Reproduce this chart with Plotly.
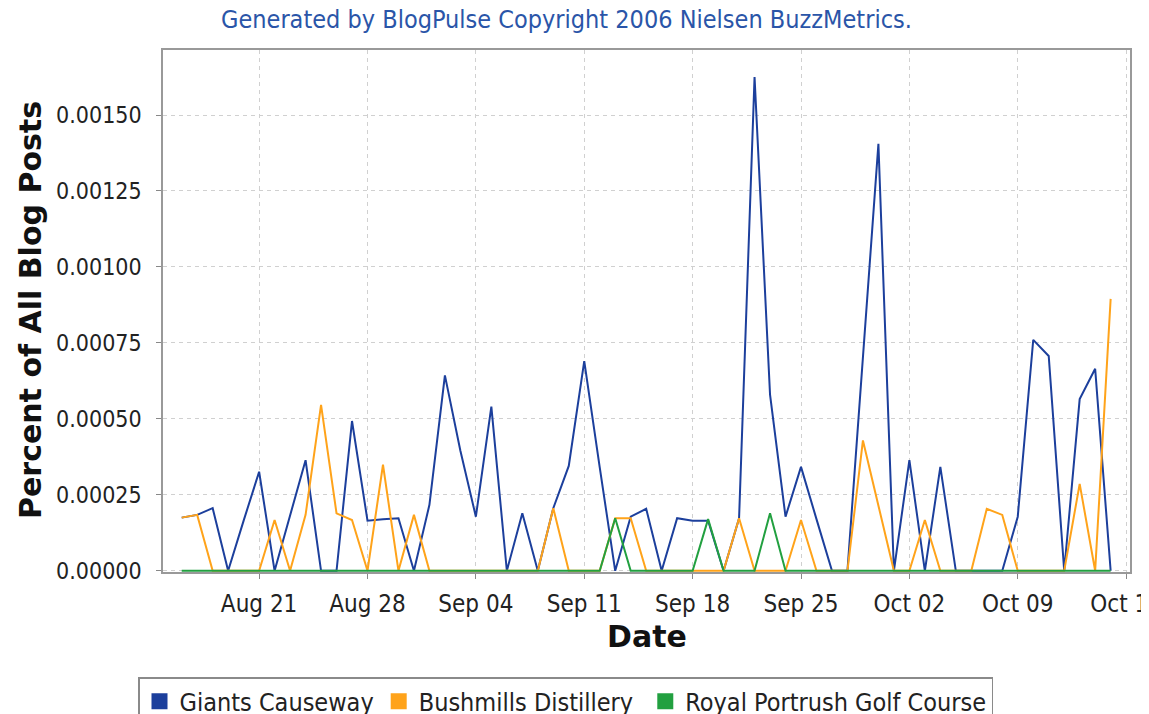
import plotly.graph_objects as go
import pandas as pd

dates = pd.date_range("2006-08-16", "2006-10-15", freq="D")

giants_causeway = [
    0.000175, 0.000184, 0.000206, 0.0, 0.000165, 0.000326, 0.0, 0.000182, 0.000364, 0.0,
    0.0, 0.000493, 0.000165, 0.000170, 0.000173, 0.0, 0.000217, 0.000643, 0.000395, 0.000178,
    0.000540, 0.0, 0.000189, 0.0, 0.000206, 0.000345, 0.000690, 0.000340, 0.0, 0.000178,
    0.000204, 0.0, 0.000173, 0.000165, 0.000165, 0.0, 0.000173, 0.001625, 0.000580, 0.000178,
    0.000342, 0.000170, 0.0, 0.0, 0.000700, 0.001405, 0.0, 0.000364, 0.0, 0.000342,
    0.0, 0.0, 0.0, 0.0, 0.000178, 0.000760, 0.000707, 0.0, 0.000565, 0.000665,
    0.0,
]

bushmills = [
    0.000175, 0.000184, 0.0, 0.0, 0.0, 0.0, 0.000167, 0.0, 0.000184, 0.000546,
    0.000189, 0.000167, 0.0, 0.000349, 0.0, 0.000184, 0.0, 0.0, 0.0, 0.0,
    0.0, 0.0, 0.0, 0.0, 0.000206, 0.0, 0.0, 0.0, 0.000173, 0.000173,
    0.0, 0.0, 0.0, 0.0, 0.0, 0.0, 0.000173, 0.0, 0.0, 0.0,
    0.000167, 0.0, 0.0, 0.0, 0.000429, 0.000215, 0.0, 0.0, 0.000167, 0.0,
    0.0, 0.0, 0.000204, 0.000184, 0.0, 0.0, 0.0, 0.0, 0.000286, 0.0,
    0.000895,
]

royal_portrush = [0.0] * 61
royal_portrush[28] = 0.000173   # Sep 13
royal_portrush[34] = 0.000170   # Sep 19
royal_portrush[38] = 0.000189   # Sep 23

series_names = ["Giants Causeway", "Bushmills Distillery", "Royal Portrush Golf Course"]
series_values = [giants_causeway, bushmills, royal_portrush]
colors = ["#1c3f9c", "#ffa31a", "#22a040"]
legend_pad = ["", "\u00a0", ""]

y_ticks = [0.0, 0.00025, 0.0005, 0.00075, 0.001, 0.00125, 0.0015]

COND = "DejaVu Sans Condensed, DejaVu Sans, sans-serif"
BOLD = "DejaVu Sans, sans-serif"

# page body has an 8px default margin: compensate so the plot frame sits
# at x 163..1130, y 50..572 of the window
OFF = 8
L, R, T, B = 163 - OFF, 1149 - 1130 + OFF, 50 - OFF, 714 - 572 + OFF
PW, PH = 1130 - 163, 572 - 50


def px(xv):
    return (xv - 163) / PW


def py(yv):
    return (572 - yv) / PH


fig = go.Figure()
for name, vals, col in zip(series_names, series_values, colors):
    fig.add_trace(go.Scatter(x=dates, y=vals, mode="lines", name=name,
                             line=dict(color=col, width=2), showlegend=False,
                             hoverinfo="x+y"))
for name, col, pad in zip(series_names, colors, legend_pad):
    fig.add_trace(go.Scatter(x=[None], y=[None], mode="markers", name=name + pad,
                             marker=dict(symbol="square", size=16, color=col),
                             showlegend=True))

fig.update_layout(
    width=1149, height=714,
    margin=dict(l=L, r=R, t=T, b=B, autoexpand=False),
    paper_bgcolor="white", plot_bgcolor="white",
    font=dict(family=COND, color="#333333", size=20),
    showlegend=True,
    legend=dict(orientation="h", x=px(138), y=py(677), xanchor="left", yanchor="top",
                bgcolor="white", bordercolor="#8a8a8a", borderwidth=1.5,
                font=dict(family=COND, size=25, color="#222222"),
                itemwidth=30),
    annotations=[
        dict(text="Generated by BlogPulse Copyright 2006 Nielsen BuzzMetrics.",
             xref="paper", yref="paper", x=px(566), y=py(20),
             xanchor="center", yanchor="middle", showarrow=False,
             font=dict(family=COND, size=25, color="#2a55a8")),
        dict(text="<b>Percent of All Blog Posts</b>",
             xref="paper", yref="paper", x=px(30), y=py(310),
             xanchor="center", yanchor="middle", textangle=-90, showarrow=False,
             font=dict(family=BOLD, size=30, color="#111111")),
        dict(text="<b>Date</b>",
             xref="paper", yref="paper", x=px(647), y=py(636),
             xanchor="center", yanchor="middle", showarrow=False,
             font=dict(family=BOLD, size=30, color="#111111")),
    ],
)

fig.update_xaxes(
    type="date",
    range=["2006-08-14 19:00", "2006-10-16 06:00"],
    tick0="2006-08-21", dtick=7 * 24 * 3600 * 1000, tickformat="%b %d",
    ticks="outside", ticklen=5, tickcolor="#888888",
    tickfont=dict(family=COND, size=24, color="#222222"),
    ticklabelstandoff=4, ticklabeloverflow="allow",
    showgrid=True, gridcolor="#d0d0d0", griddash="4px,4px", gridwidth=1,
    showline=True, linecolor="#999999", linewidth=1.5, mirror=True,
    zeroline=False, automargin=False,
)
fig.update_yaxes(
    range=[-0.000004, 0.001714],
    tickvals=y_ticks, tickformat=".5f",
    ticks="outside", ticklen=5, tickcolor="#888888",
    tickfont=dict(family=COND, size=23, color="#222222"),
    ticklabelstandoff=10,
    showgrid=True, gridcolor="#d0d0d0", griddash="4px,4px", gridwidth=1,
    showline=True, linecolor="#999999", linewidth=1.5, mirror=True,
    zeroline=False, automargin=False,
)

fig.write_html("out.html")
